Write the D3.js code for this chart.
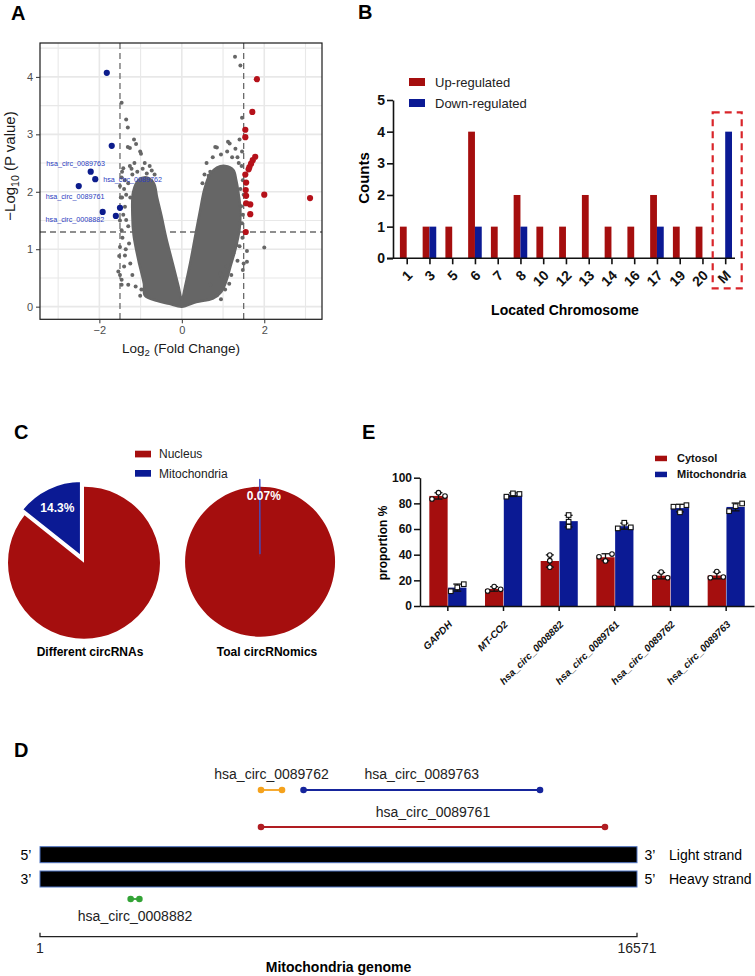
<!DOCTYPE html>
<html>
<head>
<meta charset="utf-8">
<script src="https://cdn.jsdelivr.net/npm/d3@7"></script>
<style>
body { margin: 0; background: #fff; }
svg { display: block; font-family: "Liberation Sans", Arial, sans-serif; }
</style>
</head>
<body>
<svg id="fig" width="755" height="976"></svg>
<script>
// ---------------- data ----------------
// A: volcano plot (log2 FC, -log10 p)
var foldTicks = [-2, 0, 2];
var pTicks = [0, 1, 2, 3, 4];
var fcCut = 1.5, pCut = 1.3;
var upPts = [[1.82,3.96],[1.71,3.39],[1.54,3.08],[1.54,2.95],[1.78,2.61],[1.72,2.55],[1.68,2.49],[1.64,2.43],
  [1.62,2.39],[1.54,2.30],[1.56,2.16],[1.55,2.03],[1.56,1.93],[2.00,1.95],[3.11,1.89],[1.66,1.78],[1.56,1.80],
  [1.66,1.61],[1.55,1.30]];
var downPts = [[-2.21,2.35],[-2.10,2.22],[-2.50,2.10],[-1.92,1.65],[-1.82,4.07],[-1.70,2.80],[-1.60,1.58],[-1.50,1.72]];
var downNames = ["hsa_circ_0089763","hsa_circ_0089762","hsa_circ_0089761","hsa_circ_0008882"];
// outline of the dense cloud of non-significant circRNAs
var cloudEdge = [[0,0],[0.35,0.08],[0.75,0.14],[0.95,0.25],[1.08,0.45],[1.18,0.7],[1.3,1.0],[1.4,1.35],[1.42,1.7],
  [1.38,1.95],[1.32,2.2],[1.25,2.38],[1.05,2.45],[0.85,2.42],[0.68,2.3],[0.55,2.05],[0.45,1.7],[0.33,1.25],
  [0.2,0.75],[0.08,0.35],[0,0.12],[-0.08,0.35],[-0.22,0.75],[-0.38,1.2],[-0.5,1.6],[-0.6,1.9],[-0.68,2.15],
  [-0.85,2.25],[-1.05,2.2],[-1.18,2.0],[-1.2,1.6],[-1.17,1.25],[-1.05,0.8],[-0.92,0.4],[-0.9,0.2],[-0.6,0.1],[-0.3,0.05]];
var grayPts = [[-1.46,3.55],[-1.35,3.26],[-1.31,3.12],[-1.16,2.91],[-1.11,2.83],[-1.31,2.78],[-1.26,2.76],[-1.01,2.70],
  [-0.99,2.66],[-1.42,2.41],[-1.26,2.45],[-1.08,2.35],[-0.85,2.32],[-0.73,2.37],[-0.66,2.30],[-1.46,2.25],[-1.40,2.05],
  [-1.45,1.90],[-1.38,1.74],[-1.35,1.51],[-1.46,1.33],[-1.30,1.40],[-1.50,1.04],[-1.38,0.89],[-1.52,0.88],[-1.54,0.61],
  [-1.50,0.55],[-1.46,0.47],[-1.46,0.38],[-1.30,0.38],[-1.01,0.19],[-1.25,0.75],[-1.28,1.10],[-1.25,1.90],[-1.30,2.15],
  [-1.20,2.30],[-0.95,2.40],[-1.45,2.35],[-1.38,2.20],[-1.42,1.60],[-1.35,1.95],[-1.22,2.40],[-1.15,2.50],[-0.90,2.50],
  [-0.78,2.45],[-1.44,1.20],[-1.36,1.00],[-1.20,0.55],[-1.12,0.35],[-0.98,0.30],[-1.40,0.70],[-1.50,1.50],[-1.48,1.90],
  [-1.50,2.10],
  [1.29,4.35],[1.42,4.20],[1.46,3.29],[1.40,2.91],[0.81,2.78],[0.85,2.77],[1.12,2.87],
  [1.16,2.84],[0.69,2.35],[0.65,2.28],[0.60,2.50],[1.35,2.60],[1.45,2.45],[1.48,2.20],[1.50,1.95],[1.48,1.60],
  [1.47,1.20],[2.00,1.03],[1.50,0.75],[1.48,0.64],[1.58,0.97],[1.58,0.78],[1.33,1.07],[1.25,0.93],[1.09,0.70],
  [0.93,0.58],[0.97,0.52],[1.20,0.55],[0.69,0.38],[1.05,0.30],[0.85,0.20],[1.38,2.50],[1.42,2.05],[1.44,1.75],
  [1.46,1.45],[1.40,1.05],[1.35,0.80],[1.15,0.40],[0.95,0.13],[0.75,2.60],[0.95,2.65],[1.10,2.70],[1.22,2.60],
  [0.55,2.30],[0.50,2.15],[1.30,2.75],[1.46,2.70]];

// B: chromosome counts
var chromosomes = ["1","3","5","6","7","8","10","12","13","14","16","17","19","20","M"];
var upCounts   = [1,1,1,4,1,2,1,1,2,1,1,2,1,1,0];
var downCounts = [0,1,0,1,0,1,0,0,0,0,0,1,0,0,4];
var countTicks = [0,1,2,3,4,5];

// C: pies
var pieNames = ["Different circRNAs","Toal circRNomics"];
var mitoPct = [14.3, 0.07];
var nucleusPct = [85.7, 99.93];

// E: fractionation, three replicates each
var genes = ["GAPDH","MT-CO2","hsa_circ_0008882","hsa_circ_0089761","hsa_circ_0089762","hsa_circ_0089763"];
var cytosolReps = [[83.4,88.3,85.7],[11.7,15.2,13.0],[39.7,35.3,30.2],[38.4,35.1,40.5],[22.4,26.5,22.0],[22.0,26.8,22.6]];
var mitoReps = [[11.5,14.5,17.0],[85.2,87.8,87.3],[70.9,65.7,61.8],[60.5,64.9,61.3],[77.4,73.0,78.6],[73.9,77.8,79.9]];
var propTicks = [0,20,40,60,80,100];

// D: mitochondrial genome map
var mtLength = 16571;
var circNames = ["hsa_circ_0089762","hsa_circ_0089763","hsa_circ_0089761","hsa_circ_0008882"];
var circStart = [6135, 7315, 6135, 2518];
var circEnd   = [6718, 13879, 15682, 2760];

// ---------------- drawing ----------------
var svg = d3.select("#fig");
var red = "#a50e0e", blue = "#0b1a94";
var intFmt = d3.format("d");

function letter(t, x, y) {
    svg.append("text").attr("x", x).attr("y", y).text(t)
        .attr("font-size", 20).attr("font-weight", "bold").attr("fill", "#000");
}
letter("A", 11, 20);
letter("B", 358, 19);
letter("C", 14, 439);
letter("E", 362, 439);
letter("D", 14, 757);

// ---------- A ----------
var xA = d3.scaleLinear().domain([-3.44, 3.40]).range([40, 322]);
var yA = d3.scaleLinear().domain([-0.22, 4.59]).range([319.3, 43]);
var gA = svg.append("g");
var xMinor = d3.range(-3, 4).filter(function (d) { return foldTicks.indexOf(d) < 0; });
var yMinor = d3.range(0.5, 4.6, 1);

gA.selectAll(".gx").data(xMinor.concat(foldTicks)).enter().append("line")
    .attr("x1", xA).attr("x2", xA).attr("y1", 43).attr("y2", 319.3)
    .attr("stroke", "#e8e8e8").attr("stroke-width", function (d) { return foldTicks.indexOf(d) < 0 ? 1.1 : 1.6; });
gA.selectAll(".gy").data(yMinor.concat(pTicks)).enter().append("line")
    .attr("y1", yA).attr("y2", yA).attr("x1", 40).attr("x2", 322)
    .attr("stroke", "#e8e8e8").attr("stroke-width", function (d) { return pTicks.indexOf(d) < 0 ? 1.1 : 1.6; });

// threshold lines
gA.selectAll(".vcut").data([-fcCut, fcCut]).enter().append("line")
    .attr("x1", xA).attr("x2", xA).attr("y1", 43).attr("y2", 319.3)
    .attr("stroke", "#6a6a6a").attr("stroke-width", 1.3).attr("stroke-dasharray", "6,4");
gA.append("line").attr("x1", 40).attr("x2", 322).attr("y1", yA(pCut)).attr("y2", yA(pCut))
    .attr("stroke", "#6a6a6a").attr("stroke-width", 1.3).attr("stroke-dasharray", "6,4");

// dense cloud
var cloudLine = d3.line()
    .x(function (d) { return xA(d[0]); })
    .y(function (d) { return yA(d[1]); })
    .curve(d3.curveCatmullRomClosed.alpha(0.5));
gA.append("path").attr("d", cloudLine(cloudEdge)).attr("fill", "#666666")
    .attr("stroke", "#666666").attr("stroke-width", 2.5).attr("stroke-linejoin", "round");

gA.selectAll(".gp").data(grayPts).enter().append("circle")
    .attr("cx", function (d) { return xA(d[0]); })
    .attr("cy", function (d) { return yA(d[1]); })
    .attr("r", 2).attr("fill", "#666666");
gA.selectAll(".up").data(upPts).enter().append("circle")
    .attr("cx", function (d) { return xA(d[0]); })
    .attr("cy", function (d) { return yA(d[1]); })
    .attr("r", 3.1).attr("fill", "#b5111a");
gA.selectAll(".dn").data(downPts).enter().append("circle")
    .attr("cx", function (d) { return xA(d[0]); })
    .attr("cy", function (d) { return yA(d[1]); })
    .attr("r", 3.1).attr("fill", "#0c1c8c");

// labels next to the first four down-regulated points
var labelOffsets = [[-15, -6, "middle"], [8, 2.5, "start"], [-3.7, 12.5, "middle"], [-27.7, 10, "middle"]];
gA.selectAll(".dl").data(downNames).enter().append("text")
    .attr("x", function (d, i) { return xA(downPts[i][0]) + labelOffsets[i][0]; })
    .attr("y", function (d, i) { return yA(downPts[i][1]) + labelOffsets[i][1]; })
    .attr("text-anchor", function (d, i) { return labelOffsets[i][2]; })
    .attr("font-size", 7.2).attr("fill", "#2b3cc0")
    .text(function (d) { return d; });

gA.append("rect").attr("x", 40).attr("y", 43).attr("width", 282).attr("height", 276.3)
    .attr("fill", "none").attr("stroke", "#1a1a1a").attr("stroke-width", 1.2);

var axA = gA.append("g").attr("transform", "translate(40,0)")
    .call(d3.axisLeft(yA).tickValues(pTicks).tickSize(4).tickPadding(3).tickFormat(intFmt));
var bxA = gA.append("g").attr("transform", "translate(0,319.3)")
    .call(d3.axisBottom(xA).tickValues(foldTicks).tickSize(4).tickPadding(3)
        .tickFormat(function (d) { return d < 0 ? "\u2212" + Math.abs(d) : d; }));
[axA, bxA].forEach(function (a) {
    a.select(".domain").remove();
    a.selectAll("line").attr("stroke", "#333");
    a.selectAll("text").attr("font-size", 11).attr("fill", "#4d4d4d").attr("font-family", "Liberation Sans, Arial, sans-serif");
});

var xt = gA.append("text").attr("x", 181).attr("y", 353).attr("text-anchor", "middle")
    .attr("font-size", 13.5).attr("fill", "#1a1a1a");
xt.append("tspan").text("Log");
xt.append("tspan").text("2").attr("font-size", 9.5).attr("dy", 3);
xt.append("tspan").text(" (Fold Change)").attr("dy", -3);
var yt = gA.append("text").attr("transform", "translate(15,166) rotate(-90)").attr("text-anchor", "middle")
    .attr("font-size", 15).attr("fill", "#1a1a1a");
yt.append("tspan").text("\u2212Log");
yt.append("tspan").text("10").attr("font-size", 10.5).attr("dy", 3.5);
yt.append("tspan").text(" (P value)").attr("dy", -3.5);

// ---------- B ----------
var gB = svg.append("g");
var xB = d3.scalePoint().domain(chromosomes).range([406.7, 725.2]);
var yB = d3.scaleLinear().domain([0, 5]).range([258.3, 100]);
var bwB = 6.8;
gB.selectAll(".ub").data(chromosomes).enter().append("rect")
    .attr("x", function (d) { return xB(d) - bwB; })
    .attr("y", function (d, i) { return yB(upCounts[i]); })
    .attr("width", bwB)
    .attr("height", function (d, i) { return yB(0) - yB(upCounts[i]); })
    .attr("fill", red);
gB.selectAll(".db").data(chromosomes).enter().append("rect")
    .attr("x", function (d) { return xB(d); })
    .attr("y", function (d, i) { return yB(downCounts[i]); })
    .attr("width", bwB)
    .attr("height", function (d, i) { return yB(0) - yB(downCounts[i]); })
    .attr("fill", blue);

var ayB = gB.append("g").attr("transform", "translate(393,0)")
    .call(d3.axisLeft(yB).tickValues(countTicks).tickSize(6).tickSizeOuter(0).tickPadding(2).tickFormat(intFmt));
var axB = gB.append("g").attr("transform", "translate(0," + yB(0) + ")")
    .call(d3.axisBottom(xB).tickSize(6).tickPadding(2));
axB.select(".domain").remove();
gB.append("line").attr("x1", 387).attr("x2", 735).attr("y1", yB(0)).attr("y2", yB(0))
    .attr("stroke", "#111").attr("stroke-width", 1.6);
[ayB, axB].forEach(function (a) {
    a.selectAll("path, line").attr("stroke", "#111").attr("stroke-width", 1.6);
    a.selectAll("text").attr("font-size", 14).attr("font-weight", "bold").attr("fill", "#111")
        .attr("font-family", "Liberation Sans, Arial, sans-serif");
});
axB.selectAll("text").attr("text-anchor", "end").attr("dy", null).attr("y", 0)
    .attr("transform", "translate(6,18) rotate(-45)");

gB.append("text").attr("transform", "translate(369,178) rotate(-90)").attr("text-anchor", "middle")
    .attr("font-size", 15).attr("font-weight", "bold").text("Counts");
gB.append("text").attr("x", 565).attr("y", 315).attr("text-anchor", "middle")
    .attr("font-size", 14).attr("font-weight", "bold").text("Located Chromosome");

// dashed box around M
gB.append("rect").attr("x", xB("M") - 12.5).attr("y", 112.3).attr("width", 29).attr("height", 176)
    .attr("fill", "none").attr("stroke", "#d9252a").attr("stroke-width", 2.2).attr("stroke-dasharray", "7,5");

var legB = gB.selectAll(".lb").data(["Up-regulated", "Down-regulated"]).enter().append("g")
    .attr("transform", function (d, i) { return "translate(409," + (78 + i * 21) + ")"; });
legB.append("rect").attr("width", 16).attr("height", 8).attr("fill", function (d, i) { return i ? blue : red; });
legB.append("text").attr("x", 26).attr("y", 8.5).attr("font-size", 13).attr("fill", "#222").text(function (d) { return d; });

// ---------- C ----------
var gC = svg.append("g");
var pieCenters = [[84, 562.7], [260, 561.7]];
var pieR = [76, 75];
var explode = [6.5, 7.5];
pieNames.forEach(function (name, k) {
    var a0 = 2 * Math.PI * mitoPct[k] / 100;
    var pie = d3.pie().sort(null).startAngle(-a0).endAngle(2 * Math.PI - a0);
    var arcs = pie([mitoPct[k], nucleusPct[k]]);
    var arc = d3.arc().innerRadius(0).outerRadius(pieR[k]);
    var g = gC.append("g").attr("transform", "translate(" + pieCenters[k][0] + "," + pieCenters[k][1] + ")");
    var mid = (arcs[0].startAngle + arcs[0].endAngle) / 2;
    var ex = Math.sin(mid) * explode[k], ey = -Math.cos(mid) * explode[k];
    g.append("path").attr("d", arc(arcs[1])).attr("fill", red);
    g.append("path").attr("d", arc(arcs[0])).attr("transform", "translate(" + ex + "," + ey + ")")
        .attr("fill", blue)
        .attr("stroke", k === 0 ? "#fff" : "#3d4fc4")
        .attr("stroke-width", k === 0 ? 2.5 : 0.9);
    var lr = k === 0 ? 55 : 58;
    g.append("text")
        .attr("x", Math.sin(mid) * lr + ex + (k === 0 ? 0 : 4))
        .attr("y", -Math.cos(mid) * lr + ey)
        .attr("dy", "0.35em").attr("text-anchor", "middle")
        .attr("font-size", 12).attr("font-weight", "bold").attr("fill", "#fff")
        .text(d3.format(".3~")(mitoPct[k]) + "%");
    gC.append("text").attr("x", pieCenters[k][0] + (k === 0 ? 6 : 7)).attr("y", 656)
        .attr("text-anchor", "middle").attr("font-size", 12).attr("font-weight", "bold").text(name);
});
var legC = gC.selectAll(".lc").data(["Nucleus", "Mitochondria"]).enter().append("g")
    .attr("transform", function (d, i) { return "translate(135," + (450.7 + i * 19.3) + ")"; });
legC.append("rect").attr("width", 16).attr("height", 6.7).attr("fill", function (d, i) { return i ? blue : red; });
legC.append("text").attr("x", 24).attr("y", 7.5).attr("font-size", 12).attr("fill", "#222").text(function (d) { return d; });

// ---------- E ----------
var gE = svg.append("g");
var xE = d3.scaleBand().domain(genes).range([420, 754]);
var yE = d3.scaleLinear().domain([0, 100]).range([606, 477.7]);
var bwE = 18.3;
var series = [
    { reps: cytosolReps, color: red, off: -bwE - 0.2, shape: "circle" },
    { reps: mitoReps, color: blue, off: 0.3, shape: "square" }
];
series.forEach(function (s) {
    var stats = s.reps.map(function (r) { return { m: d3.mean(r), sd: d3.deviation(r), r: r }; });
    var cx = function (i) { return xE(genes[i]) + xE.bandwidth() / 2 + s.off + bwE / 2; };
    gE.selectAll(null).data(stats).enter().append("rect")
        .attr("x", function (d, i) { return cx(i) - bwE / 2; })
        .attr("y", function (d) { return yE(d.m); })
        .attr("width", bwE)
        .attr("height", function (d) { return yE(0) - yE(d.m); })
        .attr("fill", s.color);
    stats.forEach(function (d, i) {
        var x = cx(i);
        gE.append("line").attr("x1", x).attr("x2", x).attr("y1", yE(d.m - d.sd)).attr("y2", yE(d.m + d.sd))
            .attr("stroke", "#111").attr("stroke-width", 1.3);
        [d.m - d.sd, d.m + d.sd].forEach(function (v) {
            gE.append("line").attr("x1", x - 4).attr("x2", x + 4).attr("y1", yE(v)).attr("y2", yE(v))
                .attr("stroke", "#111").attr("stroke-width", 1.3);
        });
        var py = d.r.map(yE);
        var close = d3.min([[0, 1], [0, 2], [1, 2]], function (p) { return Math.abs(py[p[0]] - py[p[1]]); }) < 5;
        d.r.forEach(function (v, j) {
            var px = x + (close ? (j - 1) * 6.5 : 0);
            if (s.shape === "circle") {
                gE.append("circle").attr("cx", px).attr("cy", yE(v)).attr("r", 2.3)
                    .attr("fill", "#fff").attr("stroke", "#111").attr("stroke-width", 1.1);
            } else {
                gE.append("rect").attr("x", px - 2.3).attr("y", yE(v) - 2.3).attr("width", 4.6).attr("height", 4.6)
                    .attr("fill", "#fff").attr("stroke", "#111").attr("stroke-width", 1.1);
            }
        });
    });
});
var ayE = gE.append("g").attr("transform", "translate(420,0)")
    .call(d3.axisLeft(yE).tickValues(propTicks).tickSize(6).tickSizeOuter(0).tickPadding(2).tickFormat(intFmt));
var axE = gE.append("g").attr("transform", "translate(0,606)")
    .call(d3.axisBottom(xE).tickSize(5).tickSizeOuter(0).tickPadding(2));
[ayE, axE].forEach(function (a) {
    a.selectAll("path, line").attr("stroke", "#111").attr("stroke-width", 1.5);
    a.selectAll("text").attr("font-size", 12).attr("font-weight", "bold").attr("fill", "#111")
        .attr("font-family", "Liberation Sans, Arial, sans-serif");
});
axE.selectAll("text").attr("text-anchor", "end").attr("dy", null).attr("y", 0)
    .attr("font-size", 10).attr("font-style", "italic")
    .attr("transform", "translate(5,19) rotate(-45)");
gE.append("text").attr("transform", "translate(387,543) rotate(-90)").attr("text-anchor", "middle")
    .attr("font-size", 12).attr("font-weight", "bold").text("proportion %");
var legE = gE.selectAll(".le").data(["Cytosol", "Mitochondria"]).enter().append("g")
    .attr("transform", function (d, i) { return "translate(655," + (455.7 + i * 16) + ")"; });
legE.append("rect").attr("width", 12).attr("height", 5.5).attr("fill", function (d, i) { return i ? blue : red; });
legE.append("text").attr("x", 22).attr("y", 6.5).attr("font-size", 11).attr("font-weight", "bold")
    .attr("fill", "#111").text(function (d) { return d; });

// ---------- D ----------
var gD = svg.append("g");
var xD = d3.scaleLinear().domain([1, mtLength]).range([40, 637]);
var rowY = [790, 790, 827, 899];
var labelDy = [-11, -11, -10, 22];
var circColors = ["#f5a21c", "#16259c", "#b01d22", "#33a336"];

// strands
var strandY = [846.7, 871];
strandY.forEach(function (y) {
    gD.append("rect").attr("x", xD(1)).attr("y", y).attr("width", xD(mtLength) - xD(1)).attr("height", 16)
        .attr("fill", "#000").attr("stroke", "#4f74c4").attr("stroke-width", 1);
});
var strandTxt = [["5\u2019", "3\u2019", "Light strand"], ["3\u2019", "5\u2019", "Heavy strand"]];
strandTxt.forEach(function (t, i) {
    var y = strandY[i] + 13;
    gD.append("text").attr("x", 26).attr("y", y).attr("text-anchor", "middle").attr("font-size", 14).text(t[0]);
    gD.append("text").attr("x", 650).attr("y", y).attr("text-anchor", "middle").attr("font-size", 14).text(t[1]);
    gD.append("text").attr("x", 669).attr("y", y).attr("font-size", 14).text(t[2]);
});

circNames.forEach(function (n, i) {
    var x0 = xD(circStart[i]), x1 = xD(circEnd[i]);
    gD.append("line").attr("x1", x0).attr("x2", x1).attr("y1", rowY[i]).attr("y2", rowY[i])
        .attr("stroke", circColors[i]).attr("stroke-width", 1.8);
    [x0, x1].forEach(function (x) {
        gD.append("circle").attr("cx", x).attr("cy", rowY[i]).attr("r", 3.3).attr("fill", circColors[i]);
    });
    gD.append("text").attr("x", (x0 + x1) / 2).attr("y", rowY[i] + labelDy[i])
        .attr("text-anchor", "middle").attr("font-size", 14).attr("fill", "#222").text(n);
});

// genome axis
gD.append("path")
    .attr("d", "M" + xD(1) + ",932.7V936.7H" + xD(mtLength) + "V932.7")
    .attr("fill", "none").attr("stroke", "#222").attr("stroke-width", 1.3);
gD.selectAll(".gt").data([1, mtLength]).enter().append("text")
    .attr("x", xD).attr("y", 953).attr("text-anchor", "middle").attr("font-size", 14).attr("fill", "#222")
    .text(function (d) { return d; });
gD.append("text").attr("x", (xD(1) + xD(mtLength)) / 2).attr("y", 972).attr("text-anchor", "middle")
    .attr("font-size", 14).attr("font-weight", "bold").text("Mitochondria genome");
</script>
</body>
</html>
